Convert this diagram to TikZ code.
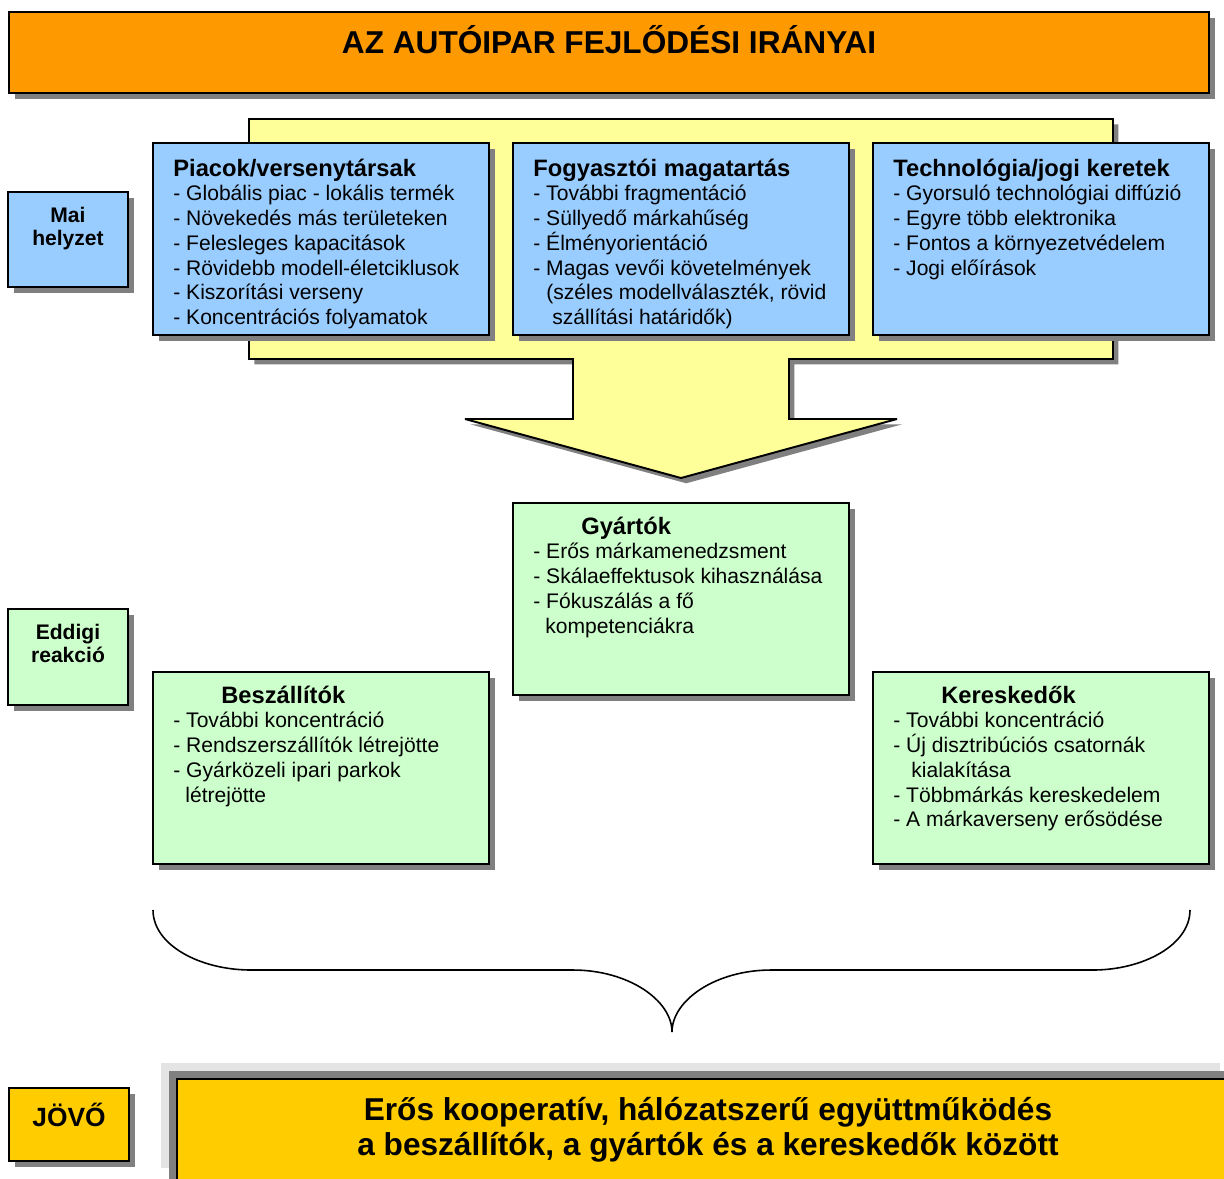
\documentclass[tikz,border=0pt]{standalone}
\usepackage{fontspec}
\setmainfont{Liberation Sans}
\usetikzlibrary{shadows,calc}

\newlength\pxu
\setlength\pxu{0.02cm}

\definecolor{titleorange}{HTML}{FF9900}
\definecolor{boxblue}{HTML}{99CCFF}
\definecolor{paleyellow}{HTML}{FFFF99}
\definecolor{palegreen}{HTML}{CCFFCC}
\definecolor{goldbox}{HTML}{FFCC00}
\definecolor{shadowgray}{HTML}{808080}
\definecolor{backgray}{HTML}{E4E4E4}

\newcommand\textcol[2]{\parbox[t]{#1\pxu}{\raggedright #2}}
\newcommand\centcol[2]{\parbox[t]{#1\pxu}{\centering #2}}
\newcommand\hd[1]{{\bfseries\fontsize{13.5}{14.1}\selectfont #1}}

\tikzset{
  frame/.style={draw=black, line width=1.1pt, inner sep=0pt, outer sep=0pt, anchor=north west},
  shadowed/.style={drop shadow={shadow xshift=3.4pt, shadow yshift=-3.4pt, fill=shadowgray, opacity=1}},
  bluebox/.style={frame, shadowed, fill=boxblue, minimum width=336\pxu, minimum height=192\pxu},
  greenbox/.style={frame, shadowed, fill=palegreen, minimum width=336\pxu, minimum height=192\pxu},
  sidebox/.style={frame, shadowed, minimum width=120\pxu},
  listtext/.style={anchor=base west, inner sep=0pt, font=\fontsize{12}{14.1}\selectfont},
  sidetext/.style={anchor=base, inner sep=0pt, font=\bfseries\fontsize{12}{13.6}\selectfont},
  bigtext/.style={anchor=base, inner sep=0pt, font=\bfseries\fontsize{18}{20.4}\selectfont},
}

\begin{document}
\begin{tikzpicture}[x=0.02cm, y=-0.02cm]
\useasboundingbox (0,0) rectangle (1224,1178);

% heading bar
\node[frame, shadowed, fill=titleorange, minimum width=1200\pxu, minimum height=81\pxu] (title) at (9,12) {};
\node[bigtext] (titletext) at (609,53) {AZ AUTÓIPAR FEJLŐDÉSI IRÁNYAI};

% big yellow arrow behind the three blue boxes
\fill[shadowgray, xshift=3pt, yshift=-3pt]
  (249,119) -- (1113,119) -- (1113,359) -- (789,359) -- (789,419) -- (897,419)
  -- (681,478) -- (465,419) -- (573,419) -- (573,359) -- (249,359) -- cycle;
\draw[line width=1.1pt, fill=paleyellow, miter limit=3]
  (249,119) -- (1113,119) -- (1113,359) -- (789,359) -- (789,419) -- (897,419)
  -- (681,478) -- (465,419) -- (573,419) -- (573,359) -- (249,359) -- cycle;

% current situation
\node[sidebox, fill=boxblue, minimum height=95\pxu] (now) at (8,192) {};
\node[sidetext] (nowtext) at (68,222) {\centcol{110}{Mai\\helyzet}};

\node[bluebox] (markets) at (153,143) {};
\node[listtext] (marketstext) at ($(markets.north west)+(20,33)$) {\textcol{320}{%
  \hd{Piacok/versenytársak}\\
  - Globális piac - lokális termék\\
  - Növekedés más területeken\\
  - Felesleges kapacitások\\
  - Rövidebb modell-életciklusok\\
  - Kiszorítási verseny\\
  - Koncentrációs folyamatok}};

\node[bluebox] (consumers) at (513,143) {};
\node[listtext] (consumerstext) at ($(consumers.north west)+(20,33)$) {\textcol{320}{%
  \hd{Fogyasztói magatartás}\\
  - További fragmentáció\\
  - Süllyedő márkahűség\\
  - Élményorientáció\\
  - Magas vevői követelmények\\
  \hspace*{13\pxu}(széles modellválaszték, rövid\\
  \hspace*{19\pxu}szállítási határidők)}};

\node[bluebox] (tech) at (873,143) {};
\node[listtext] (techtext) at ($(tech.north west)+(20,33)$) {\textcol{320}{%
  \hd{Technológia/jogi keretek}\\
  - Gyorsuló technológiai diffúzió\\
  - Egyre több elektronika\\
  - Fontos a környezetvédelem\\
  - Jogi előírások}};

% reaction so far
\node[sidebox, fill=palegreen, minimum height=96\pxu] (reaction) at (8,609) {};
\node[sidetext] (reactiontext) at (68,639) {\centcol{110}{Eddigi\\reakció}};

\node[greenbox] (makers) at (513,503) {};
\node[listtext] (makerstext) at ($(makers.north west)+(20,31)$) {\textcol{320}{%
  \hspace*{48\pxu}\hd{Gyártók}\\
  - Erős márkamenedzsment\\
  - Skálaeffektusok kihasználása\\
  - Fókuszálás a fő\\
  \hspace*{12\pxu}kompetenciákra}};

\node[greenbox] (suppliers) at (153,672) {};
\node[listtext] (supplierstext) at ($(suppliers.north west)+(20,31)$) {\textcol{320}{%
  \hspace*{48\pxu}\hd{Beszállítók}\\
  - További koncentráció\\
  - Rendszerszállítók létrejötte\\
  - Gyárközeli ipari parkok\\
  \hspace*{12\pxu}létrejötte}};

\node[greenbox] (dealers) at (873,672) {};
\node[listtext] (dealerstext) at ($(dealers.north west)+(20,31)$) {\textcol{320}{%
  \hspace*{48\pxu}\hd{Kereskedők}\\
  - További koncentráció\\
  - Új disztribúciós csatornák\\
  \hspace*{18\pxu}kialakítása\\
  - Többmárkás kereskedelem\\
  - A márkaverseny erősödése}};

% brace gathering the three reactions
\draw[line width=0.9pt]
  (153,910) .. controls (153,945) and (200,970) .. (251,970) -- (573,970)
  .. controls (628,970) and (672,1000) .. (672,1032)
  .. controls (672,1000) and (716,970) .. (771,970) -- (1093,970)
  .. controls (1143,970) and (1190,945) .. (1190,910);

% future
\node[sidebox, fill=goldbox, minimum height=73\pxu] (future) at (9,1088) {};
\node[anchor=base, inner sep=0pt, font=\bfseries\fontsize{15}{17}\selectfont] (futuretext) at (69,1126) {JÖVŐ};

\fill[backgray] (161,1063) rectangle (1220,1168);
\node[frame, fill=goldbox, minimum width=1100\pxu, minimum height=140\pxu,
      drop shadow={shadow xshift=-4.5pt, shadow yshift=4.5pt, fill=shadowgray, opacity=1}]
      (coop) at (177,1079) {};
\node[bigtext] (cooptext) at (708,1120) {\centcol{1000}{Erős kooperatív, hálózatszerű együttműködés\\
  a beszállítók, a gyártók és a kereskedők között}};
\end{tikzpicture}
\end{document}
